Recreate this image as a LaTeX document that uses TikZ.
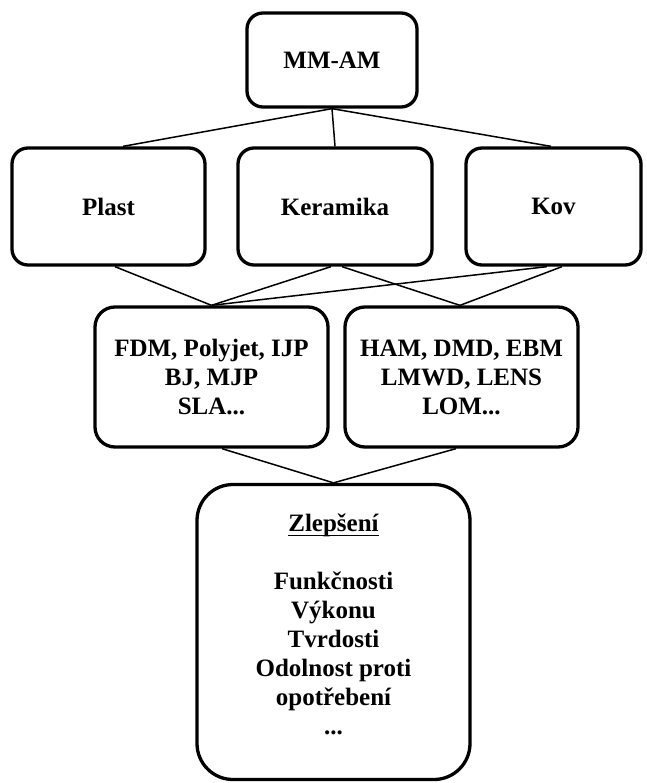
\documentclass[tikz,border=0pt]{standalone}
\usepackage{fontspec}
\setmainfont{Liberation Serif}
\newcommand{\myul}[1]{\tikz[baseline=(w.base)]{\node[inner sep=0pt,outer sep=0pt] (w) {#1};\draw[line width=1.6pt] ([yshift=-4pt]w.base west) -- ([yshift=-4pt]w.base east);}}
\begin{document}
\begin{tikzpicture}[x=1pt,y=-1pt,
  box/.style={draw=black, line width=3.3pt, fill=white, rounded corners=16pt,
    inner sep=0pt, align=center,
    font=\fontsize{25}{29}\selectfont\bfseries},
  link/.style={draw=black, line width=1.5pt},
  txt/.style={inner sep=0pt, align=center, font=\fontsize{25}{29}\selectfont\bfseries}]
\fill[white] (0,0) rectangle (646,783);
\useasboundingbox (0,0) rectangle (646,783);
% nodes
\node[box, minimum width=170pt, minimum height=94pt] (mm) at (332,60) {MM-AM};
\node[box, minimum width=193pt, minimum height=117pt] (plast) at (108.5,206.5) {Plast};
\node[box, minimum width=194pt, minimum height=117pt] (ker) at (335,206.5) {Keramika};
\node[box, minimum width=175pt, minimum height=117pt] (kov) at (553.5,206.5) {Kov};
\node[box, rounded corners=20pt, minimum width=233pt, minimum height=140pt] (fdm) at (211.5,377)
  {FDM, Polyjet, IJP\\BJ, MJP\\SLA...};
\node[box, rounded corners=20pt, minimum width=233pt, minimum height=140pt] (ham) at (461.5,377)
  {HAM, DMD, EBM\\LMWD, LENS\\LOM...};
\node[box, rounded corners=36pt, minimum width=273pt, minimum height=295pt] (zl) at (333.5,632) {};
\node[txt, anchor=north] (zltxt) at ([yshift=-31pt]zl.north)
  {\myul{Zlepšení}\\[29pt]Funkčnosti\\Výkonu\\Tvrdosti\\Odolnost proti\\opotřebení\\...};
% connectors
\draw[link] (mm.south) -- ([xshift=14.5pt]plast.north);
\draw[link] (mm.south) -- (ker.north);
\draw[link] (mm.south) -- ([xshift=-2.5pt]kov.north);
\draw[link] ([xshift=6.5pt]plast.south) -- (fdm.north);
\draw[link] ([xshift=-4pt]ker.south) -- (fdm.north);
\draw[link] ([xshift=7pt]ker.south) -- ([xshift=-1.5pt]ham.north);
\draw[link] ([xshift=-6.5pt]kov.south) -- (fdm.north);
\draw[link] ([xshift=8.5pt]kov.south) -- ([xshift=-1.5pt]ham.north);
\draw[link] ([xshift=10.5pt]fdm.south) -- (zl.north);
\draw[link] ([xshift=-5.5pt]ham.south) -- (zl.north);
\end{tikzpicture}
\end{document}
